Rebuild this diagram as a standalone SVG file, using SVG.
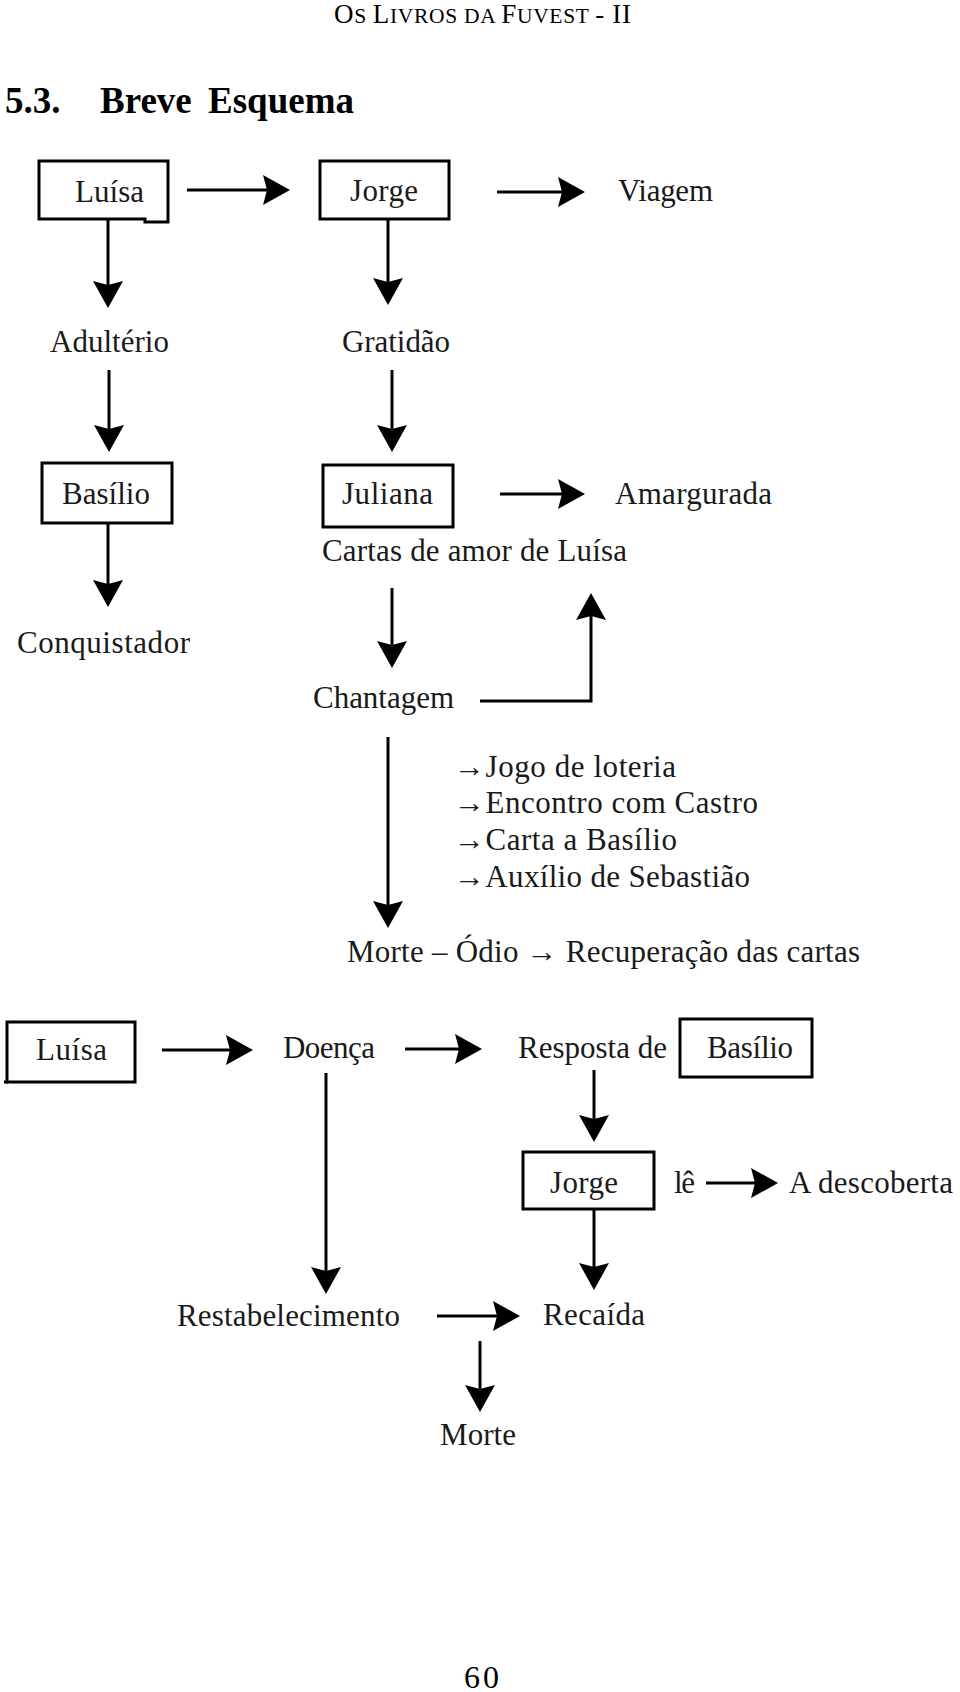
<svg xmlns="http://www.w3.org/2000/svg" width="960" height="1692" viewBox="0 0 960 1692">
<style>
.t{font-family:"Liberation Serif","Times New Roman",serif;font-size:31px;fill:#1a1a1a}
.box{fill:none;stroke:#000;stroke-width:3}
.c{fill:none;stroke:#000;stroke-width:3}
.hd{font-family:"Liberation Serif","Times New Roman",serif;fill:#000}
</style>
<defs>
<marker id="ah" markerUnits="userSpaceOnUse" viewBox="0 0 27 30" markerWidth="27" markerHeight="30" refX="19" refY="15" orient="auto">
<path d="M0,0 L27,15 L0,30 L4,15 Z" fill="#000"/>
</marker>
</defs>
<rect width="960" height="1692" fill="#fff"/>
<g id="header">
<text class="hd" x="334" y="23" textLength="297" lengthAdjust="spacing"><tspan font-size="27">O</tspan><tspan font-size="21.5">S </tspan><tspan font-size="27">L</tspan><tspan font-size="21.5">IVROS DA </tspan><tspan font-size="27">F</tspan><tspan font-size="21.5">UVEST </tspan><tspan font-size="27">- II</tspan></text>
</g>
<g id="title" class="hd" font-weight="bold" font-size="37">
<text x="5" y="113">5.3.</text>
<text x="100" y="113">Breve</text>
<text x="208" y="113">Esquema</text>
</g>
<g id="n-luisa1"><path class="box" d="M39,161 H168 V222 H145 V219 H39 Z"/><text class="t" x="75" y="202" textLength="69">Luísa</text></g>
<g id="n-jorge1"><rect class="box" x="320" y="161" width="129" height="58"/><text class="t" x="350" y="201" textLength="68">Jorge</text></g>
<g id="n-viagem"><text class="t" x="618" y="201" textLength="95">Viagem</text></g>
<g id="n-adulterio"><text class="t" x="50" y="352" textLength="119">Adultério</text></g>
<g id="n-gratidao"><text class="t" x="342" y="352" textLength="108">Gratidão</text></g>
<g id="n-basilio1"><rect class="box" x="42" y="463" width="130" height="60"/><text class="t" x="62" y="504" textLength="88">Basílio</text></g>
<g id="n-juliana"><rect class="box" x="323" y="465" width="130" height="62"/><text class="t" x="342" y="504" textLength="91">Juliana</text></g>
<g id="n-amargurada"><text class="t" x="615" y="504" textLength="157">Amargurada</text></g>
<g id="n-cartas"><text class="t" x="322" y="561" textLength="305">Cartas de amor de Luísa</text></g>
<g id="n-conquistador"><text class="t" x="17" y="653" textLength="173">Conquistador</text></g>
<g id="n-chantagem"><text class="t" x="313" y="708" textLength="141">Chantagem</text></g>
<g id="n-lista">
<text class="t" x="454" y="777" textLength="222">→Jogo de loteria</text>
<text class="t" x="454" y="813" textLength="304">→Encontro com Castro</text>
<text class="t" x="454" y="850" textLength="223">→Carta a Basílio</text>
<text class="t" x="454" y="887" textLength="296">→Auxílio de Sebastião</text>
</g>
<g id="n-morte-odio"><text class="t" x="347" y="962" textLength="513">Morte – Ódio → Recuperação das cartas</text></g>
<g id="n-luisa2"><rect class="box" x="7" y="1022" width="128" height="60"/><line class="c" x1="4" y1="1082" x2="8" y2="1082"/><text class="t" x="36" y="1060" textLength="71">Luísa</text></g>
<g id="n-doenca"><text class="t" x="283" y="1058" textLength="92">Doença</text></g>
<g id="n-resposta"><text class="t" x="518" y="1058" textLength="149">Resposta de</text></g>
<g id="n-basilio2"><rect class="box" x="680" y="1019" width="132" height="58"/><text class="t" x="707" y="1058" textLength="86">Basílio</text></g>
<g id="n-jorge2"><rect class="box" x="523" y="1152" width="131" height="57"/><text class="t" x="550" y="1193" textLength="68">Jorge</text></g>
<g id="n-le"><text class="t" x="674" y="1193" textLength="21">lê</text></g>
<g id="n-descoberta"><text class="t" x="789" y="1193" textLength="164">A descoberta</text></g>
<g id="n-restabelecimento"><text class="t" x="177" y="1326" textLength="223">Restabelecimento</text></g>
<g id="n-recaida"><text class="t" x="543" y="1325" textLength="102">Recaída</text></g>
<g id="n-morte"><text class="t" x="440" y="1445" textLength="76">Morte</text></g>
<g id="connectors" marker-end="url(#ah)">
<line class="c" x1="187" y1="190" x2="282" y2="190" marker-end="url(#ah)"/>
<line class="c" x1="497" y1="192" x2="577" y2="192" marker-end="url(#ah)"/>
<line class="c" x1="108" y1="219" x2="108" y2="300" marker-end="url(#ah)"/>
<line class="c" x1="388" y1="219" x2="388" y2="297" marker-end="url(#ah)"/>
<line class="c" x1="109" y1="370" x2="109" y2="444" marker-end="url(#ah)"/>
<line class="c" x1="392" y1="370" x2="392" y2="444" marker-end="url(#ah)"/>
<line class="c" x1="500" y1="494" x2="577" y2="494" marker-end="url(#ah)"/>
<line class="c" x1="108" y1="523" x2="108" y2="599" marker-end="url(#ah)"/>
<line class="c" x1="392" y1="588" x2="392" y2="660" marker-end="url(#ah)"/>
<polyline class="c" points="480,701 591,701 591,601" marker-end="url(#ah)"/>
<line class="c" x1="388" y1="737" x2="388" y2="920" marker-end="url(#ah)"/>
<line class="c" x1="162" y1="1050" x2="245" y2="1050" marker-end="url(#ah)"/>
<line class="c" x1="405" y1="1049" x2="474" y2="1049" marker-end="url(#ah)"/>
<line class="c" x1="326" y1="1073" x2="326" y2="1286" marker-end="url(#ah)"/>
<line class="c" x1="594" y1="1070" x2="594" y2="1134" marker-end="url(#ah)"/>
<line class="c" x1="706" y1="1183" x2="770" y2="1183" marker-end="url(#ah)"/>
<line class="c" x1="594" y1="1209" x2="594" y2="1282" marker-end="url(#ah)"/>
<line class="c" x1="437" y1="1316" x2="512" y2="1316" marker-end="url(#ah)"/>
<line class="c" x1="480" y1="1341" x2="480" y2="1404" marker-end="url(#ah)"/>
</g>
<g id="page-number"><text class="hd" x="464" y="1688" font-size="32" letter-spacing="3">60</text></g>
</svg>
